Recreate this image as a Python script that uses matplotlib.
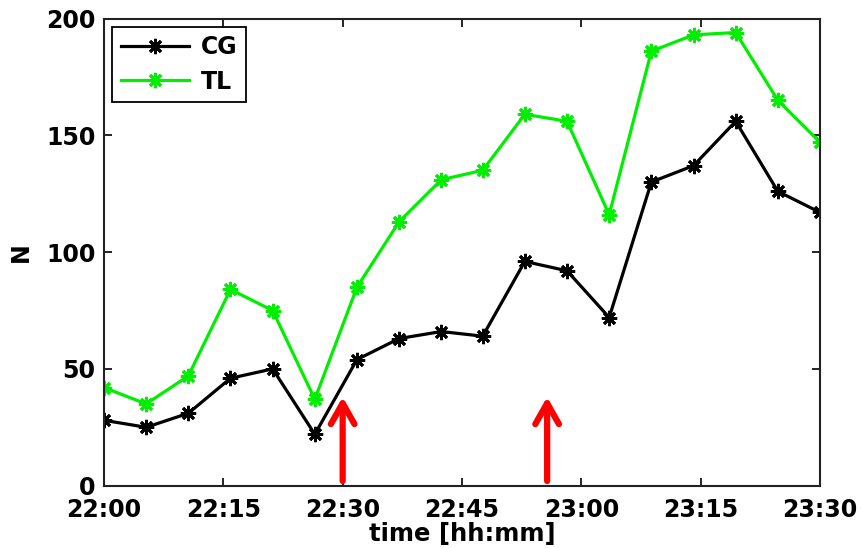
import matplotlib
matplotlib.use("Agg")
import matplotlib.pyplot as plt

# sample times, minutes after 22:00
minutes = [0, 5.3, 10.6, 15.9, 21.2, 26.5, 31.8, 37.1, 42.4, 47.6,
           52.9, 58.2, 63.5, 68.8, 74.1, 79.4, 84.7, 90]
cg = [28, 25, 31, 46, 50, 22, 54, 63, 66, 64, 96, 92, 72, 130, 137, 156, 126, 117]
tl = [42, 35, 47, 84, 75, 37, 85, 113, 131, 135, 159, 156, 116, 186, 193, 194, 165, 147]

tick_minutes = [0, 15, 30, 45, 60, 75, 90]
tick_labels = ["22:00", "22:15", "22:30", "22:45", "23:00", "23:15", "23:30"]
arrow_minutes = [30, 55.7]
arrow_base, arrow_tip = 2, 38

plt.rcParams['font.family'] = ['DejaVu Sans']
plt.rcParams['font.weight'] = 'bold'

fig = plt.figure(figsize=(8.63, 5.48), dpi=100)
ax = fig.add_axes([0.1205, 0.1137, 0.8297, 0.8525])

ast = (8, 2, 0)
ax.plot(minutes, cg, color='black', marker=ast, markersize=11, linewidth=2.3,
        markeredgewidth=2.0, label='CG')
ax.plot(minutes, tl, color='#00ee00', marker=ast, markersize=11, linewidth=2.3,
        markeredgewidth=2.0, label='TL')

for m in arrow_minutes:
    ax.annotate('', xy=(m, arrow_tip), xytext=(m, arrow_base),
                arrowprops=dict(arrowstyle='->,head_length=1.5,head_width=0.85',
                                color='#ff0000', lw=4.5, shrinkA=0, shrinkB=0,
                                capstyle='round', joinstyle='round'))

ax.set_xlim(0, 90)
ax.set_ylim(0, 200)
ax.set_xticks(tick_minutes)
ax.set_xticklabels(tick_labels)
ax.set_yticks([0, 50, 100, 150, 200])
ax.tick_params(direction='in', length=6, width=1.2, top=True, right=True,
               labelsize=17, pad=6, colors='black')
ax.tick_params(axis='x', pad=9)
for lab in ax.get_xticklabels() + ax.get_yticklabels():
    lab.set_fontweight('bold')
for s in ax.spines.values():
    s.set_linewidth(1.5)
    s.set_color('#222222')

ax.set_xlabel('time [hh:mm]', fontsize=17.5, fontweight='bold', labelpad=0)
ax.set_ylabel('N', fontsize=17, fontweight='bold', labelpad=10)

leg = ax.legend(loc='upper left', handlelength=2.9,
                fancybox=False, framealpha=1, edgecolor='black',
                borderaxespad=0.35, borderpad=0.35, labelspacing=0.45,
                handletextpad=0.5, prop={'weight': 'bold', 'size': 17})
leg.get_frame().set_linewidth(1.3)

fig.savefig('out.png', dpi=100)
